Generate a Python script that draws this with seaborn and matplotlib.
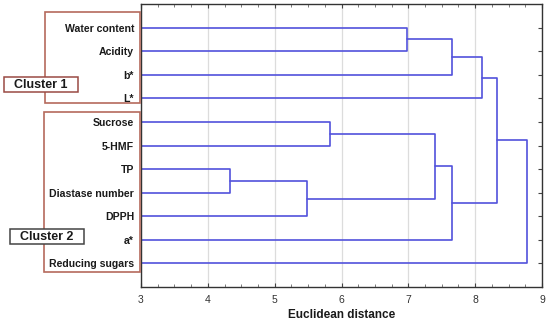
import numpy as np
import pandas as pd
import matplotlib
matplotlib.use("Agg")
import matplotlib.pyplot as plt
from matplotlib.patches import Rectangle
from matplotlib.ticker import MultipleLocator
import seaborn as sns

# ---- data ----
labels = ["Water content", "Acidity", "b*", "L*", "Sucrose", "5-HMF", "TP",
          "Diastase number", "DPPH", "a*", "Reducing sugars"]
# merges: (child a, child b, distance); new node ids start at len(labels)
merge_a = [6, 11, 4, 0, 13, 9, 14, 17, 18, 19]
merge_b = [7, 8, 5, 1, 12, 15, 2, 3, 16, 10]
merge_dist = [4.33, 5.48, 5.83, 6.98, 7.40, 7.65, 7.66, 8.10, 8.32, 8.78]
x_ticks = [3, 4, 5, 6, 7, 8, 9]

sns.set_theme(style="white")
plt.rcParams["font.family"] = ["Liberation Sans", "DejaVu Sans"]

fig = plt.figure(figsize=(5.5, 3.25), dpi=100)
W, H = 550, 325
ax = fig.add_axes([141 / W, 1 - 287 / H, (542 - 141) / W, (287 - 4) / H])

# node coordinates
n = len(labels)
node_x = {i: 0.0 for i in range(n)}
node_y = {i: float(i + 1) for i in range(n)}
rows = []
for k, (a, b, d) in enumerate(zip(merge_a, merge_b, merge_dist)):
    nid = n + k
    xs = [node_x[a], d, d, node_x[b]]
    ys = [node_y[a], node_y[a], node_y[b], node_y[b]]
    for j, (xx, yy) in enumerate(zip(xs, ys)):
        rows.append({"seg": k, "order": j, "x": xx, "y": yy})
    node_x[nid] = d
    node_y[nid] = (node_y[a] + node_y[b]) / 2
df = pd.DataFrame(rows)

line_color = "#5252dc"
sns.lineplot(data=df, x="x", y="y", units="seg", estimator=None, sort=False,
             color=line_color, linewidth=1.2, ax=ax, legend=False)

ax.set_xlim(3, 9)
ax.set_ylim(12, 0)
for xv in x_ticks:
    ax.axvline(xv, color="#dcdcdc", linewidth=0.9, zorder=0)

ax.set_xticks(x_ticks)
ax.set_xticklabels([str(t) for t in x_ticks], fontsize=7.5, color="#333333")
ax.xaxis.set_minor_locator(MultipleLocator(0.25))
ax.set_yticks(range(1, n + 1))
ax.set_yticklabels(labels, fontsize=7.6, fontweight="bold", color="#1a1a1a")
ax.tick_params(axis="x", which="major", direction="in", length=3, width=0.8,
               top=True, bottom=True, color="#444444", pad=6)
ax.tick_params(axis="x", which="minor", direction="in", length=2, width=0.6,
               top=True, bottom=True, color="#666666")
ax.tick_params(axis="y", which="major", direction="in", length=3, width=0.8,
               left=False, right=True, color="#444444", pad=5)
for s in ax.spines.values():
    s.set_visible(True)
    s.set_color("#333333")
    s.set_linewidth(1.0)

ax.set_xlabel("Euclidean distance", fontsize=8.5, fontweight="bold",
              color="#1a1a1a", labelpad=3)
ax.set_ylabel("")

# cluster boxes (figure pixel coordinates)
def px_rect(x0, y0, x1, y1, ec, lw, fc="none", z=5):
    r = Rectangle((x0 / W, 1 - y1 / H), (x1 - x0) / W, (y1 - y0) / H,
                  transform=fig.transFigure, fill=(fc != "none"),
                  facecolor=fc if fc != "none" else "white",
                  edgecolor=ec, linewidth=lw, zorder=z)
    fig.patches.append(r)

box_col = "#b56a5c"
px_rect(44.5, 12, 140, 103, box_col, 1.2)
px_rect(44, 112, 140, 272, box_col, 1.2)
px_rect(3.5, 77, 78, 92, "#9a4a44", 1.1, fc="white", z=6)
px_rect(9.5, 229, 84, 244, "#444444", 1.1, fc="white", z=6)
fig.text(40.5 / W, 1 - 84.5 / H, "Cluster 1", ha="center", va="center",
         fontsize=9, fontweight="bold", color="#1a1a1a", zorder=7)
fig.text(46.5 / W, 1 - 236.5 / H, "Cluster 2", ha="center", va="center",
         fontsize=9, fontweight="bold", color="#1a1a1a", zorder=7)

fig.savefig("out.png", dpi=100)
